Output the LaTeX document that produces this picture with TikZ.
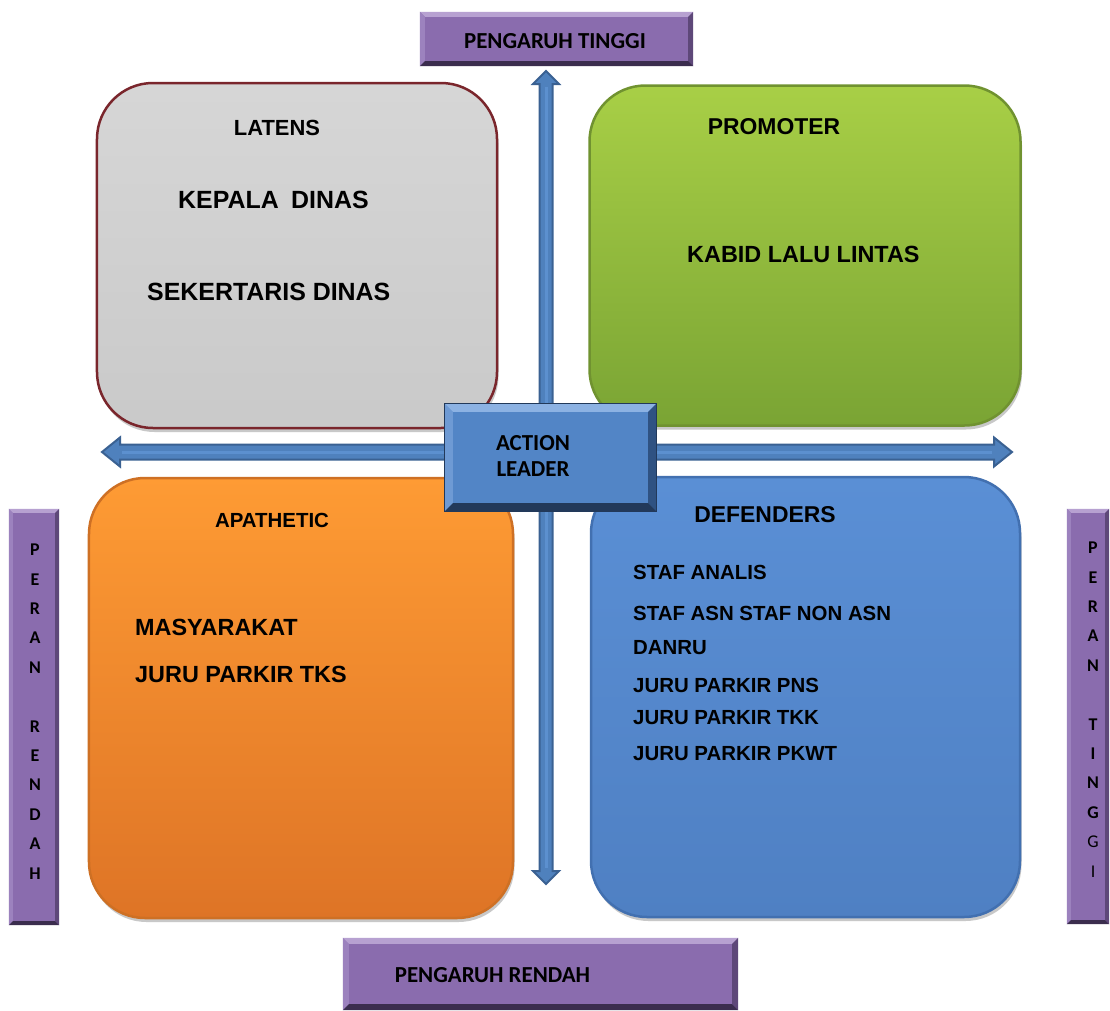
\documentclass[tikz,border=0pt]{standalone}
\usepackage{fontspec}
\setmainfont{Liberation Sans}
\newfontfamily\carlitofont{Carlito}
\usetikzlibrary{calc,shadows}

\definecolor{lblfill}{HTML}{8A6CAE}
\definecolor{lbllight}{HTML}{B7A1D1}
\definecolor{lblside}{HTML}{9C82BE}
\definecolor{lbldark}{HTML}{3B2D4E}
\definecolor{lblshade}{HTML}{5E4879}
\definecolor{axisfill}{HTML}{4F81BD}
\definecolor{axisedge}{HTML}{3A6192}
\definecolor{axisshine}{HTML}{5C90CF}
\definecolor{leadfill}{HTML}{5285C6}
\definecolor{leadlight}{HTML}{8CB2E3}
\definecolor{leadside}{HTML}{6E9AD4}
\definecolor{leaddark}{HTML}{22395A}
\definecolor{leadshade}{HTML}{2F5282}

% beveled frame: node, depth, top, left, right, bottom colours
\newcommand\bevelframe[6]{%
  \fill[#3] (#1.north west) -- (#1.north east) -- ($(#1.north east)+(-#2,#2)$) -- ($(#1.north west)+(#2,#2)$) -- cycle;
  \fill[#4] (#1.north west) -- (#1.south west) -- ($(#1.south west)+(#2,-#2)$) -- ($(#1.north west)+(#2,#2)$) -- cycle;
  \fill[#5] (#1.north east) -- (#1.south east) -- ($(#1.south east)+(-#2,-#2)$) -- ($(#1.north east)+(-#2,#2)$) -- cycle;
  \fill[#6] (#1.south west) -- (#1.south east) -- ($(#1.south east)+(-#2,-#2)$) -- ($(#1.south west)+(#2,-#2)$) -- cycle;
}

\tikzset{
  quad/.style={rounded corners=56bp, line width=2.5bp, inner sep=0pt,
    drop shadow={shadow xshift=1.5bp, shadow yshift=-4bp, opacity=0.3, fill=black!70}},
  labelbox/.style={fill=lblfill, inner sep=0pt},
  qtext/.style={inner sep=0pt, font=\bfseries\fontsize{23}{26}\selectfont},
  qitem/.style={inner sep=0pt, anchor=west, font=\bfseries\fontsize{20.5}{24}\selectfont},
  ctext/.style={inner sep=0pt, font=\carlitofont\bfseries\fontsize{23}{26}\selectfont},
  vtext/.style={inner sep=0pt, align=center, font=\carlitofont\bfseries\fontsize{18}{29.5}\selectfont},
  axis/.style={fill=axisfill, draw=axisedge, line width=2bp, line join=miter},
}

\begin{document}
\begin{tikzpicture}[x=1bp, y=-1bp]
\useasboundingbox (0,0) rectangle (1110,1011);
\fill[white] (0,0) rectangle (1110,1011);

% four quadrants
\node[quad, draw={rgb,255:red,122;green,38;blue,44}, top color=black!16, bottom color=black!21,
  minimum width=400bp, minimum height=345bp] (latens) at (297,255.5) {};
\node[quad, draw={rgb,255:red,112;green,146;blue,48}, top color={rgb,255:red,168;green,207;blue,70},
  bottom color={rgb,255:red,122;green,164;blue,52},
  minimum width=431bp, minimum height=340bp] (promoter) at (805,255.5) {};
\node[quad, draw={rgb,255:red,206;green,112;blue,36}, top color={rgb,255:red,254;green,155;blue,52},
  bottom color={rgb,255:red,222;green,116;blue,38},
  minimum width=424bp, minimum height=440bp] (apathetic) at (301,698) {};
\node[quad, draw={rgb,255:red,66;green,112;blue,176}, top color={rgb,255:red,90;green,143;blue,213},
  bottom color={rgb,255:red,79;green,128;blue,195},
  minimum width=429bp, minimum height=440bp] (defenders) at (805.5,697) {};

% axes
\coordinate (up) at (546,71);
\coordinate (down) at (546,884);
\coordinate (left) at (102,452);
\coordinate (right) at (1012,452);
\draw[axis] (up) -- ($(up)+(13,13)$) -- ($(up)+(6.5,13)$) -- ($(down)+(6.5,-13)$)
  -- ($(down)+(13,-13)$) -- (down) -- ($(down)+(-13,-13)$) -- ($(down)+(-6.5,-13)$)
  -- ($(up)+(-6.5,13)$) -- ($(up)+(-13,13)$) -- cycle;
\draw[axis] (left) -- ($(left)+(18,-14.5)$) -- ($(left)+(18,-7.5)$) -- ($(right)+(-18,-7.5)$)
  -- ($(right)+(-18,-14.5)$) -- (right) -- ($(right)+(-18,14.5)$) -- ($(right)+(-18,7.5)$)
  -- ($(left)+(18,7.5)$) -- ($(left)+(18,14.5)$) -- cycle;
\draw[axisshine, line width=3bp] ($(up)+(0,16)$) -- ($(down)+(0,-16)$);
\draw[axisshine, line width=3bp] ($(left)+(20,0)$) -- ($(right)+(-20,0)$);

% centre box
\node[fill=leadfill, inner sep=0pt, minimum width=211bp, minimum height=107bp] (lead) at (550.5,457.5) {};
\bevelframe{lead}{8}{leadlight}{leadside}{leadshade}{leaddark}
\draw[leaddark, line width=1bp] (lead.north west) rectangle (lead.south east);

% axis labels
\node[labelbox, minimum width=273bp, minimum height=54bp] (hiInf) at (556.5,39) {};
\bevelframe{hiInf}{5}{lbllight}{lblside}{lblshade}{lbldark}
\node[labelbox, minimum width=395bp, minimum height=72bp] (loInf) at (540.5,974) {};
\bevelframe{loInf}{6}{lbllight}{lblside}{lblshade}{lbldark}
\node[labelbox, minimum width=50bp, minimum height=416bp] (loRole) at (34,717) {};
\bevelframe{loRole}{4}{lbllight}{lblside}{lblshade}{lbldark}
\node[labelbox, minimum width=42bp, minimum height=415bp] (hiRole) at (1088,716.5) {};
\bevelframe{hiRole}{4}{lbllight}{lblside}{lblshade}{lbldark}

\node[ctext] (hiInfT) at (555,41) {PENGARUH TINGGI};
\node[ctext] (loInfT) at (492.5,975) {PENGARUH RENDAH};
\node[vtext] (loRoleT) at (35,711.5) {P\\E\\R\\A\\N\\[29.5bp]R\\E\\N\\D\\A\\H};
\node[vtext] (hiRoleT) at (1093,709.5) {P\\E\\R\\A\\N\\[29.5bp]T\\I\\N\\G\\\mdseries G\\\mdseries I};
\node[ctext, align=center, font=\carlitofont\bfseries\fontsize{23}{26}\selectfont] (leadT) at (533,456) {ACTION\\LEADER};

% quadrant texts
\node[qtext, font=\bfseries\fontsize{22}{26}\selectfont] (latensT) at (277,128) {LATENS};
\node[qtext, anchor=west, font=\bfseries\fontsize{25}{28}\selectfont] (kadis) at (178,200) {KEPALA\hspace{0.5em}DINAS};
\node[qtext, anchor=west, font=\bfseries\fontsize{25}{28}\selectfont] (sekdis) at (147,292) {SEKERTARIS DINAS};

\node[qtext] (promoterT) at (774,127) {PROMOTER};
\node[qtext, anchor=west, font=\bfseries\fontsize{23.5}{26}\selectfont] (kabid) at (687,254) {KABID LALU LINTAS};

\node[qtext, font=\bfseries\fontsize{20.5}{24}\selectfont] (apatheticT) at (272,520) {APATHETIC};
\node[qtext, anchor=west, font=\bfseries\fontsize{23.5}{26}\selectfont] (masy) at (135,627) {MASYARAKAT};
\node[qtext, anchor=west, font=\bfseries\fontsize{23.5}{26}\selectfont] (jptks) at (135,674) {JURU PARKIR TKS};

\node[qtext] (defendersT) at (765,515) {DEFENDERS};
\node[qitem] (d1) at (633,572) {STAF ANALIS};
\node[qitem] (d2) at (633,613) {STAF ASN STAF NON ASN};
\node[qitem] (d3) at (633,648) {DANRU};
\node[qitem] (d4) at (633,685) {JURU PARKIR PNS};
\node[qitem] (d5) at (633,718) {JURU PARKIR TKK};
\node[qitem] (d6) at (633,754) {JURU PARKIR PKWT};
\end{tikzpicture}
\end{document}
